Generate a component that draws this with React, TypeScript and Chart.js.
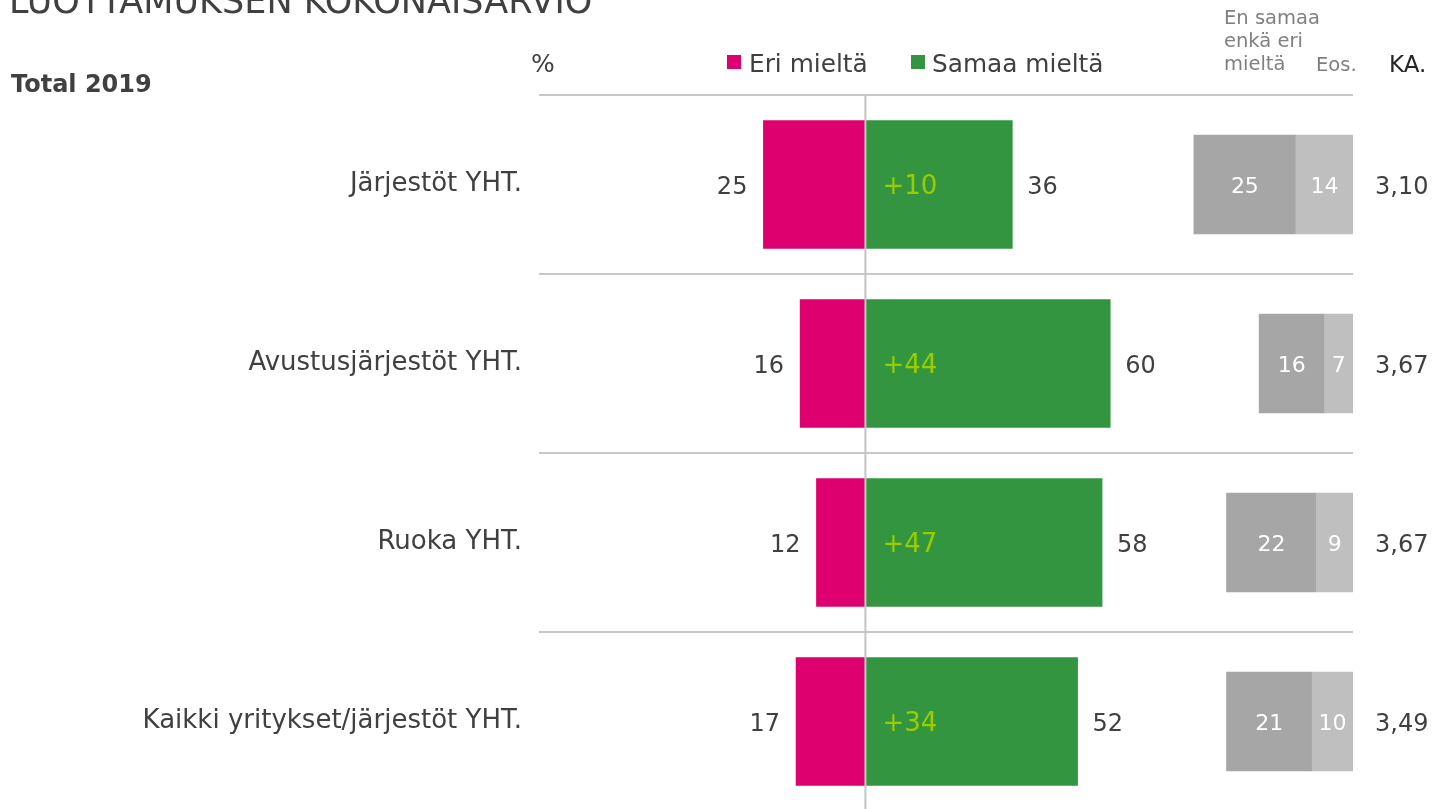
import React, { useEffect, useRef } from 'react';
import { Chart, registerables } from 'chart.js';

Chart.register(...registerables);

// ---- data ----
const categories = ['Järjestöt YHT.', 'Avustusjärjestöt YHT.', 'Ruoka YHT.', 'Kaikki yritykset/järjestöt YHT.'];
const eriMielta = [25, 16, 12, 17];
const samaaMielta = [36, 60, 58, 52];
const netto = [10, 44, 47, 34];
const neutraali = [25, 16, 22, 21];
const eos = [14, 7, 9, 10];
const ka = [3.1, 3.67, 3.67, 3.49];

const FONT = '"DejaVu Sans", Verdana, sans-serif';
const MAGENTA = '#DE006E';
const GREEN = '#33953F';
const DARK_GRAY = '#A6A6A6';
const LIGHT_GRAY = '#BFBFBF';
const NET_COLOR = '#9ACD00';
const TEXT = '#404040';

const labelPlugin = {
  id: 'valueLabels',
  afterDatasetsDraw(chart: any) {
    const { ctx, chartArea, scales } = chart;
    const x = scales.x;
    const x2 = scales.x2;
    const y = scales.y;
    ctx.save();
    // center line
    const cx = x.getPixelForValue(0);
    ctx.strokeStyle = '#C4C4C4';
    ctx.lineWidth = 2;
    ctx.beginPath();
    ctx.moveTo(cx, chartArea.top);
    ctx.lineTo(cx, chartArea.bottom);
    ctx.stroke();

    ctx.textBaseline = 'alphabetic';
    categories.forEach((_, i) => {
      const cy = y.getPixelForValue(i);
      const base = cy + 9;
      ctx.font = `24px ${FONT}`;
      ctx.fillStyle = TEXT;
      ctx.textAlign = 'right';
      ctx.fillText(String(eriMielta[i]), x.getPixelForValue(-eriMielta[i]) - 16, base);
      ctx.textAlign = 'left';
      ctx.fillText(String(samaaMielta[i]), x.getPixelForValue(samaaMielta[i]) + 15, base);
      ctx.font = `26px ${FONT}`;
      ctx.fillStyle = NET_COLOR;
      ctx.fillText('+' + netto[i], cx + 17, base);

      ctx.font = `22px ${FONT}`;
      ctx.fillStyle = '#FFFFFF';
      ctx.textAlign = 'center';
      ctx.fillText(String(neutraali[i]), x2.getPixelForValue(eos[i] + neutraali[i] / 2), base - 1);
      ctx.fillText(String(eos[i]), x2.getPixelForValue(eos[i] / 2), base - 1);

      ctx.font = `24px ${FONT}`;
      ctx.fillStyle = TEXT;
      ctx.textAlign = 'left';
      ctx.fillText(ka[i].toFixed(2).replace('.', ','), chartArea.right + 22, base);
    });
    ctx.restore();
  },
};

export default function App() {
  const ref = useRef<HTMLCanvasElement | null>(null);

  useEffect(() => {
    if (!ref.current) return;
    const chart = new Chart(ref.current, {
      type: 'bar',
      data: {
        labels: categories,
        datasets: [
          {
            label: 'Eri mieltä',
            data: eriMielta.map((v) => -v),
            backgroundColor: MAGENTA,
            xAxisID: 'x',
            grouped: false,
            barThickness: 128,
          } as any,
          {
            label: 'Samaa mieltä',
            data: samaaMielta,
            backgroundColor: GREEN,
            xAxisID: 'x',
            grouped: false,
            barThickness: 128,
          } as any,
          {
            label: 'Eos.',
            data: eos.map((v) => [0, v]),
            backgroundColor: LIGHT_GRAY,
            xAxisID: 'x2',
            grouped: false,
            barThickness: 99,
          } as any,
          {
            label: 'En samaa enkä eri mieltä',
            data: neutraali.map((v, i) => [eos[i], eos[i] + v]),
            backgroundColor: DARK_GRAY,
            xAxisID: 'x2',
            grouped: false,
            barThickness: 99,
          } as any,
        ],
      },
      options: {
        indexAxis: 'y',
        animation: false,
        responsive: false,
        maintainAspectRatio: false,
        layout: { padding: { left: 0, right: 80, top: 95, bottom: 40 } },
        plugins: { legend: { display: false }, tooltip: { enabled: false } },
        scales: {
          x: { type: 'linear', display: false, min: -80, max: 119.5 },
          x2: { type: 'linear', display: false, min: 0, max: 199.5, reverse: true },
          y: {
            type: 'category',
            grid: { offset: true, color: '#C8C8C8', lineWidth: 2, drawTicks: false },
            border: { display: false },
            ticks: { padding: 17, color: TEXT, font: { family: FONT, size: 26 } },
            afterFit: (s: any) => {
              s.width = 539;
            },
          },
        },
      } as any,
      plugins: [labelPlugin],
    });
    return () => chart.destroy();
  }, []);

  const abs = (extra: React.CSSProperties): React.CSSProperties => ({
    position: 'absolute',
    fontFamily: FONT,
    whiteSpace: 'nowrap',
    lineHeight: 'normal',
    margin: 0,
    ...extra,
  });

  return (
    <div style={{ position: 'absolute', left: 0, top: 0, width: 1433, height: 809, overflow: 'hidden', background: '#fff' }}>
      <canvas ref={ref} width={1433} height={851} style={{ position: 'absolute', left: 0, top: 0, display: 'block' }} />
      <div style={abs({ left: 9, top: -19.5, fontSize: 35, color: TEXT })}>LUOTTAMUKSEN KOKONAISARVIO</div>
      <div style={abs({ left: 11, top: 69.8, fontSize: 24, fontWeight: 'bold', color: TEXT })}>Total 2019</div>
      <div style={abs({ left: 531, top: 48.8, fontSize: 25, color: TEXT })}>%</div>
      <div style={{ position: 'absolute', left: 727, top: 55, width: 14, height: 14, background: MAGENTA }} />
      <div style={abs({ left: 749, top: 49, fontSize: 24.8, color: TEXT })}>Eri mieltä</div>
      <div style={{ position: 'absolute', left: 911, top: 55, width: 14, height: 14, background: GREEN }} />
      <div style={abs({ left: 932, top: 49, fontSize: 24.8, color: TEXT })}>Samaa mieltä</div>
      <div style={abs({ left: 1224, top: 6, fontSize: 19.5, lineHeight: '23px', color: '#808080' })}>
        En samaa
        <br />
        enkä eri
        <br />
        mieltä
      </div>
      <div style={abs({ left: 1316, top: 52.5, fontSize: 19.5, color: '#808080' })}>Eos.</div>
      <div style={abs({ left: 1389, top: 50.7, fontSize: 23, color: '#262626' })}>KA.</div>
    </div>
  );
}
